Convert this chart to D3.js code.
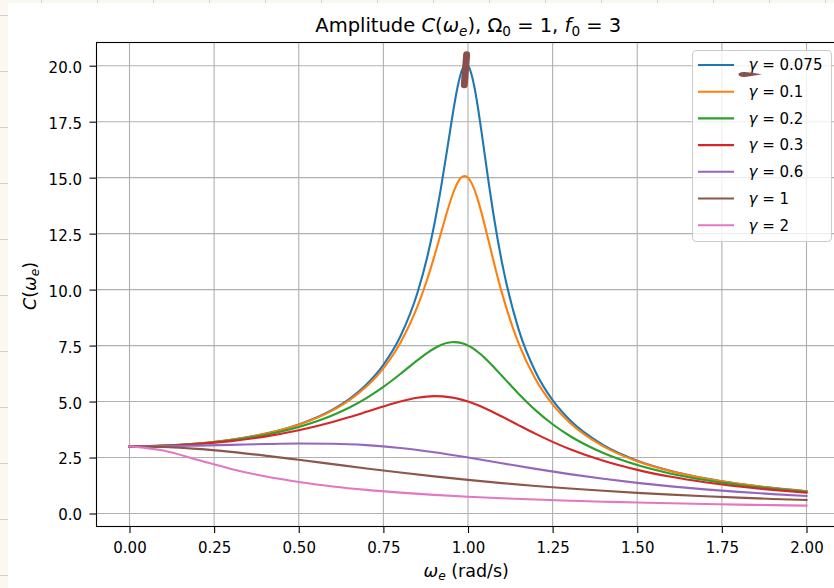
<!DOCTYPE html>
<html><head><meta charset="utf-8">
<script src="https://cdn.jsdelivr.net/npm/d3@7"></script>
<style>body{margin:0;background:#fff}svg{display:block}text{font-family:"DejaVu Sans",sans-serif;fill:#000}</style>
</head><body><svg id="c" width="834" height="588"></svg>
<script>
const omegaFine = [0,0.1,0.2,0.3,0.4,0.5,0.6,0.65,0.7,0.75,0.8,0.85,0.88,0.9,0.92,0.94,0.95,0.96,0.97,0.98,0.99,1.0,1.01,1.02,1.03,1.04,1.05,1.06,1.08,1.1,1.15,1.2,1.25,1.3,1.4,1.5,1.6,1.7,1.8,1.9,2.0];
const omegaMid = [0,0.1,0.2,0.3,0.4,0.5,0.6,0.65,0.7,0.75,0.8,0.85,0.9,0.95,1.0,1.05,1.1,1.15,1.2,1.25,1.3,1.4,1.5,1.6,1.7,1.8,1.9,2.0];
const omegaCoarse = [0,0.1,0.2,0.3,0.4,0.5,0.6,0.7,0.8,0.9,1.0,1.1,1.2,1.3,1.4,1.5,1.6,1.7,1.8,1.9,2.0];

const gamma0075 = [3.000,3.030,3.1235,3.2927,3.5624,3.9802,4.6418,5.1223,5.7615,6.6410,7.9057,9.8232,11.478,12.871,14.529,16.408,17.375,18.297,19.103,19.706,20.023,20.000,19.630,18.958,18.065,17.040,15.964,14.896,12.918,11.233,8.2025,6.3106,5.0596,4.1840,3.0528,2.3620,1.9007,1.5730,1.3297,1.1426,0.9950];
const gamma01 = [3.000,3.0297,3.1223,3.2896,3.5554,3.9649,4.6072,5.0679,5.6725,6.4864,7.6151,9.2183,10.485,11.462,12.516,13.567,14.048,14.466,14.793,15.003,15.075,15.000,14.778,14.426,13.965,13.427,12.838,12.225,11.003,9.864,7.5735,5.9856,4.8736,4.0686,3.0000,2.3337,1.8839,1.5622,1.3223,1.1374,0.9912];
const gamma02 = [3.000,3.0278,3.1142,3.2684,3.5083,3.8649,4.3890,4.7368,5.1563,5.6553,6.2285,6.8357,7.1755,7.3699,7.5231,7.6220,7.6470,7.6546,7.6437,7.6142,7.5662,7.5000,7.4166,7.3172,7.2032,7.0767,6.9392,6.7927,6.4803,6.1533,5.3401,4.6072,3.9862,3.4722,2.6993,2.1637,1.7792,1.4936,1.2750,1.1036,0.9662];
const gamma03 = [3.000,3.0247,3.1009,3.2341,3.4340,3.7139,4.0855,4.3050,4.5408,4.7799,5.0000,5.1670,5.2406,5.1878,5.0000,4.7001,4.3315,3.9388,3.5554,3.2000,2.8808,2.3518,1.9477,1.6378,1.3969,1.2064,1.0533,0.9285];
const gamma06 = [3.000,3.0083,3.0317,3.0655,3.1009,3.1235,3.1142,3.0528,2.9260,2.7358,2.5000,2.2445,1.9924,1.7587,1.5504,1.3690,1.2127,1.0788,0.9641,0.8656,0.7809];
const gamma1 = [3.000,2.9703,2.8846,2.7523,2.5862,2.4000,2.2059,2.0134,1.8293,1.6575,1.5000,1.3575,1.2295,1.1152,1.0135,0.9231,0.8427,0.7712,0.7075,0.6508,0.6000];
const gamma2 = [3.000,2.8096,2.4007,1.9920,1.6601,1.4045,1.2078,1.0541,0.9316,0.8322,0.7500,0.6810,0.6224,0.5719,0.5280,0.4895,0.4554,0.4251,0.3979,0.3733,0.3511];

const legendLabels = ["0.075","0.1","0.2","0.3","0.6","1","2"];
const colors = ["#1f77b4","#ff7f0e","#2ca02c","#d62728","#9467bd","#8c564b","#e377c2"];
const xTicks = [0,0.25,0.5,0.75,1.0,1.25,1.5,1.75,2.0];
const xTickLabels = ["0.00","0.25","0.50","0.75","1.00","1.25","1.50","1.75","2.00"];
const yTicks = [0,2.5,5,7.5,10,12.5,15,17.5,20];
const yTickLabels = ["0.0","2.5","5.0","7.5","10.0","12.5","15.0","17.5","20.0"];
// annotation scribble (brown pen mark) in data coordinates
const scribble = [[0.996,20.49],[0.989,19.15]];

const series = [
  {x:omegaFine, y:gamma0075},{x:omegaFine, y:gamma01},{x:omegaFine, y:gamma02},
  {x:omegaMid, y:gamma03},{x:omegaCoarse, y:gamma06},{x:omegaCoarse, y:gamma1},{x:omegaCoarse, y:gamma2}
];

const svg = d3.select("#c");
// notebook frame strips
svg.append("rect").attr("x",0).attr("y",0).attr("width",834).attr("height",588).attr("fill","#fbf8f2");
svg.append("rect").attr("x",8).attr("y",3).attr("width",826).attr("height",585).attr("fill","#fff");
for(let yy=15; yy<588; yy+=56) svg.append("line").attr("x1",0).attr("x2",8).attr("y1",yy+0.5).attr("y2",yy+0.5).attr("stroke","#cfcfcf");
for(let xx=41; xx<834; xx+=56) svg.append("line").attr("x1",xx+0.5).attr("x2",xx+0.5).attr("y1",0).attr("y2",3).attr("stroke","#cfcfcf");

const L=96.5, T=42.5, B=526.5, R=840;
const x = d3.scaleLinear().domain([0,2]).range([129.5,806.5]);
const y = d3.scaleLinear().domain([0,20]).range([513.5,65.7]);

svg.append("clipPath").attr("id","pc").append("rect").attr("x",L).attr("y",T).attr("width",R-L).attr("height",B-T);
const g = svg.append("g");
// grid
g.selectAll(".gx").data(xTicks).join("line").attr("x1",d=>x(d)).attr("x2",d=>x(d)).attr("y1",T).attr("y2",B).attr("stroke","#b0b0b0").attr("stroke-width",1.1);
g.selectAll(".gy").data(yTicks).join("line").attr("x1",L).attr("x2",R).attr("y1",d=>y(d)).attr("y2",d=>y(d)).attr("stroke","#b0b0b0").attr("stroke-width",1.1);

const line = d3.line().curve(d3.curveMonotoneX).x(d=>x(d[0])).y(d=>y(d[1]));
const lg = g.append("g").attr("clip-path","url(#pc)");
series.forEach((s,i)=>{
  lg.append("path").attr("d",line(s.x.map((v,j)=>[v,s.y[j]]))).attr("fill","none").attr("stroke",colors[i]).attr("stroke-width",2.1).attr("stroke-linejoin","round").attr("stroke-linecap","square");
});

// spines
svg.append("rect").attr("x",L).attr("y",T).attr("width",R-L).attr("height",B-T).attr("fill","none").attr("stroke","#000").attr("stroke-width",1.1);

// axes
const xa = svg.append("g").attr("transform",`translate(0,${B})`)
  .call(d3.axisBottom(x).tickValues(xTicks).tickFormat((d,i)=>xTickLabels[i]).tickSize(6.5).tickPadding(6));
xa.select(".domain").remove();
xa.selectAll("line").attr("stroke","#000").attr("stroke-width",1.1);
xa.selectAll("text").attr("font-size",15).attr("font-family","DejaVu Sans").attr("y",16.3).attr("dy",0).attr("transform","translate(0,10.6)").attr("fill","#000");

const ya = svg.append("g").attr("transform",`translate(${L},0)`)
  .call(d3.axisLeft(y).tickValues(yTicks).tickFormat((d,i)=>yTickLabels[i]).tickSize(7).tickPadding(7.5));
ya.select(".domain").remove();
ya.selectAll("line").attr("stroke","#000").attr("stroke-width",1.1);
ya.selectAll("text").attr("font-size",15).attr("font-family","DejaVu Sans").attr("dy","0.43em").attr("fill","#000");

// title
const title = svg.append("text").attr("x",(L+R)/2).attr("y",32).attr("text-anchor","middle").attr("font-size",19.5);
title.append("tspan").text("Amplitude ");
title.append("tspan").attr("font-style","italic").text("C");
title.append("tspan").text("(");
title.append("tspan").attr("font-style","italic").text("ω");
title.append("tspan").attr("font-style","italic").attr("font-size",13.6).attr("dy",3.5).text("e");
title.append("tspan").attr("dy",-3.5).text("), Ω");
title.append("tspan").attr("font-size",13.6).attr("dy",3.5).text("0");
title.append("tspan").attr("dy",-3.5).text(" = 1, ");
title.append("tspan").attr("font-style","italic").text("f");
title.append("tspan").attr("font-size",13.6).attr("dy",3.5).text("0");
title.append("tspan").attr("dy",-3.5).text(" = 3");

// x label
const xl = svg.append("text").attr("x",(L+R)/2 - 2).attr("y",577).attr("text-anchor","middle").attr("font-size",17.5);
xl.append("tspan").attr("font-style","italic").text("ω");
xl.append("tspan").attr("font-style","italic").attr("font-size",12.2).attr("dy",3).text("e");
xl.append("tspan").attr("dy",-3).text(" (rad/s)");
// y label
const yl = svg.append("text").attr("transform","translate(36,286) rotate(-90)").attr("text-anchor","middle").attr("font-size",17.5);
yl.append("tspan").attr("font-style","italic").text("C");
yl.append("tspan").text("(");
yl.append("tspan").attr("font-style","italic").text("ω");
yl.append("tspan").attr("font-style","italic").attr("font-size",12.2).attr("dy",3).text("e");
yl.append("tspan").attr("dy",-3).text(")");

// legend
const lx=692.5, ly=50.5, lw=139, lh=191, rowH=26.7;
const leg = svg.append("g");
leg.append("rect").attr("x",lx).attr("y",ly).attr("width",lw).attr("height",lh).attr("rx",4).attr("fill","#fff").attr("fill-opacity",0.8).attr("stroke","#cccccc").attr("stroke-width",1.1);
legendLabels.forEach((lab,i)=>{
  const yy = 65 + i*rowH;
  leg.append("line").attr("x1",698).attr("x2",734).attr("y1",yy).attr("y2",yy).attr("stroke",colors[i]).attr("stroke-width",2.1);
  const t = leg.append("text").attr("x",748.5).attr("y",yy+5.3).attr("font-size",15);
  t.append("tspan").attr("font-style","italic").text("γ");
  t.append("tspan").text(" = " + lab);
});

// brown pen annotations
svg.append("path").attr("d",d3.line()(scribble.map(p=>[x(p[0]),y(p[1])]))).attr("stroke","#8a4f4d").attr("stroke-width",7).attr("stroke-linecap","round").attr("fill","none");
svg.append("path").attr("d","M738.5,74.6 C738.3,71.8 744,71.4 750,72.4 L762,74.2 L750,76.3 C744,77.3 738.7,77.2 738.5,74.6 Z").attr("fill","#8a4f4d");
</script></body></html>
